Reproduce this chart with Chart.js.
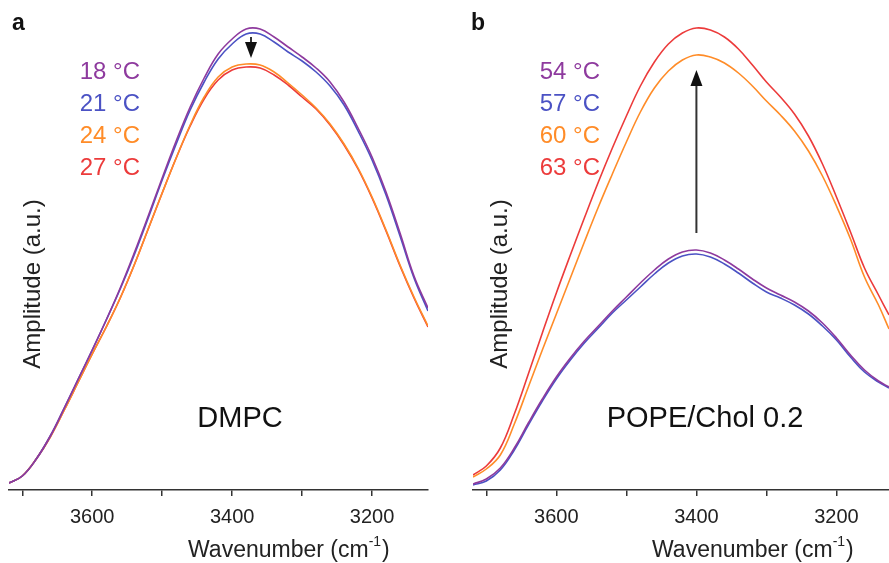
<!DOCTYPE html>
<html>
<head>
<meta charset="utf-8">
<script src="https://cdn.jsdelivr.net/npm/chart.js@4.4.0/dist/chart.umd.min.js"></script>
<style>
  html, body { margin: 0; padding: 0; background: #fff; }
  body { width: 889px; height: 563px; position: relative; overflow: hidden; }
  .panel { position: absolute; top: 0; height: 563px; }
  #panelA { left: 0; width: 444px; }
  #panelB { left: 444px; width: 445px; }
</style>
</head>
<body>
<div class="panel" id="panelA"><canvas id="chartA" width="444" height="563"></canvas></div>
<div class="panel" id="panelB"><canvas id="chartB" width="445" height="563"></canvas></div>
<script>
// wavenumber axis (cm-1), shared ticks
const xTicks = [3700, 3600, 3500, 3400, 3300, 3200];
const xTickLabels = ["", "3600", "", "3400", "", "3200"];

// panel a: DMPC
const wavenumbersA = [3719, 3700, 3680, 3660, 3640, 3620, 3600, 3580, 3560, 3540, 3520, 3500, 3480, 3460, 3440, 3420,
  3400, 3380, 3360, 3340, 3320, 3300, 3280, 3260, 3240, 3220, 3200, 3180, 3160, 3140, 3120];
const dmpc18 = [0.07, 0.14, 0.31, 0.54, 0.82, 1.11, 1.40, 1.70, 2.02, 2.37, 2.74, 3.12, 3.49, 3.83, 4.12, 4.36,
  4.51, 4.61, 4.61, 4.53, 4.43, 4.33, 4.22, 4.08, 3.88, 3.62, 3.33, 2.98, 2.57, 2.14, 1.82];
const dmpc21 = [0.07, 0.14, 0.31, 0.54, 0.82, 1.11, 1.40, 1.70, 2.01, 2.35, 2.72, 3.10, 3.46, 3.80, 4.08, 4.31,
  4.46, 4.56, 4.56, 4.48, 4.38, 4.29, 4.18, 4.04, 3.85, 3.59, 3.30, 2.95, 2.54, 2.12, 1.79];
const dmpc24 = [0.07, 0.14, 0.31, 0.53, 0.80, 1.08, 1.36, 1.63, 1.92, 2.25, 2.61, 2.97, 3.32, 3.65, 3.93, 4.13,
  4.23, 4.26, 4.25, 4.18, 4.07, 3.95, 3.82, 3.66, 3.46, 3.22, 2.93, 2.60, 2.25, 1.93, 1.64];
const dmpc27 = [0.07, 0.14, 0.31, 0.53, 0.80, 1.08, 1.36, 1.63, 1.92, 2.25, 2.61, 2.97, 3.32, 3.64, 3.91, 4.10,
  4.20, 4.23, 4.22, 4.15, 4.05, 3.93, 3.81, 3.65, 3.45, 3.21, 2.92, 2.59, 2.24, 1.92, 1.63];
const tempsA = ["18 °C", "21 °C", "24 °C", "27 °C"];

// panel b: POPE/Chol 0.2
const wavenumbersB = [3719, 3700, 3680, 3660, 3640, 3620, 3600, 3580, 3560, 3540, 3520, 3500, 3480, 3460, 3440, 3420,
  3400, 3380, 3360, 3340, 3320, 3300, 3280, 3260, 3240, 3220, 3200, 3180, 3160, 3140, 3125];
const pope54 = [0.06, 0.11, 0.22, 0.42, 0.67, 0.91, 1.13, 1.32, 1.49, 1.64, 1.79, 1.93, 2.07, 2.20, 2.31, 2.38,
  2.40, 2.37, 2.30, 2.21, 2.11, 2.02, 1.95, 1.88, 1.79, 1.67, 1.52, 1.35, 1.20, 1.09, 1.03];
const pope57 = [0.05, 0.09, 0.20, 0.40, 0.65, 0.89, 1.11, 1.30, 1.47, 1.62, 1.77, 1.90, 2.03, 2.16, 2.27, 2.34,
  2.36, 2.33, 2.26, 2.17, 2.07, 1.98, 1.92, 1.85, 1.76, 1.64, 1.50, 1.33, 1.18, 1.08, 1.02];
const pope60 = [0.13, 0.21, 0.35, 0.66, 1.03, 1.40, 1.76, 2.12, 2.48, 2.83, 3.16, 3.48, 3.78, 4.02, 4.19, 4.30,
  4.35, 4.33, 4.27, 4.17, 4.04, 3.89, 3.75, 3.59, 3.39, 3.14, 2.84, 2.51, 2.13, 1.85, 1.61];
const pope63 = [0.15, 0.24, 0.42, 0.76, 1.16, 1.57, 1.97, 2.35, 2.72, 3.08, 3.42, 3.74, 4.04, 4.28, 4.46, 4.57,
  4.62, 4.60, 4.53, 4.41, 4.25, 4.08, 3.93, 3.76, 3.54, 3.26, 2.93, 2.58, 2.22, 1.95, 1.75];
const tempsB = ["54 °C", "57 °C", "60 °C", "63 °C"];

const colors = ["#8e3a9e", "#4b52c4", "#ff8c28", "#ec3b3b"];
const FONT = '"Liberation Sans", Arial, sans-serif';

// labels, arrow and axis titles drawn on top of each panel
const panelText = {
  id: "panelText",
  afterDraw(chart, args, opts) {
    const ctx = chart.ctx;
    const xs = chart.scales.x, ys = chart.scales.y;
    ctx.save();
    ctx.textBaseline = "alphabetic";

    ctx.fillStyle = "#111";
    ctx.font = "bold 23px " + FONT;
    ctx.textAlign = "left";
    ctx.fillText(opts.letter, opts.letterX, 30);

    ctx.font = "24px " + FONT;
    ctx.textAlign = "right";
    opts.temps.forEach((t, i) => {
      ctx.fillStyle = colors[i];
      ctx.fillText(t, opts.legendX, 79 + i * 32);
    });

    ctx.fillStyle = "#111";
    ctx.font = "29px " + FONT;
    ctx.textAlign = "center";
    ctx.fillText(opts.sample, opts.sampleX, 427);

    // y title
    ctx.save();
    ctx.translate(opts.ampX, 284);
    ctx.rotate(-Math.PI / 2);
    ctx.font = "24px " + FONT;
    ctx.fillStyle = "#222";
    ctx.fillText("Amplitude (a.u.)", 0, 0);
    ctx.restore();

    // x title with superscript
    ctx.textAlign = "left";
    ctx.fillStyle = "#222";
    ctx.font = "23px " + FONT;
    let tx = opts.titleX;
    ctx.fillText("Wavenumber (cm", tx, 557);
    tx += ctx.measureText("Wavenumber (cm").width;
    ctx.font = "14px " + FONT;
    ctx.fillText("-1", tx, 546);
    tx += ctx.measureText("-1").width + 1;
    ctx.font = "23px " + FONT;
    ctx.fillText(")", tx, 557);

    // arrow
    const a = opts.arrow;
    const ax = xs.getPixelForValue(a.x);
    const y0 = ys.getPixelForValue(a.from);
    const y1 = ys.getPixelForValue(a.to);
    const dir = y1 > y0 ? 1 : -1;
    const headLen = 16, headW = 6;
    ctx.strokeStyle = "#333";
    ctx.lineWidth = 2;
    ctx.beginPath();
    ctx.moveTo(ax, y0);
    ctx.lineTo(ax, y1 - dir * headLen);
    ctx.stroke();
    ctx.fillStyle = "#111";
    ctx.beginPath();
    ctx.moveTo(ax, y1);
    ctx.lineTo(ax - headW, y1 - dir * headLen);
    ctx.lineTo(ax + headW, y1 - dir * headLen);
    ctx.closePath();
    ctx.fill();
    ctx.restore();
  }
};

function makeDatasets(wn, series) {
  return series.map((vals, i) => ({
    data: wn.map((w, j) => ({ x: w, y: vals[j] })),
    borderColor: colors[i],
    borderWidth: 1.6,
    pointRadius: 0,
    tension: 0.4,
    fill: false
  }));
}

function makeChart(id, wn, series, pad, textOpts) {
  return new Chart(document.getElementById(id), {
    type: "line",
    data: { datasets: makeDatasets(wn, series) },
    plugins: [panelText],
    options: {
      responsive: false,
      animation: false,
      layout: { padding: pad },
      plugins: {
        legend: { display: false },
        tooltip: { enabled: false },
        panelText: textOpts
      },
      scales: {
        x: {
          type: "linear",
          reverse: true,
          min: wn[wn.length - 1],
          max: wn[0],
          afterBuildTicks: s => { s.ticks = xTicks.map(v => ({ value: v })); },
          afterFit: s => { s.height = 73; },
          border: { display: true, color: "#333", width: 1.5 },
          grid: { drawOnChartArea: false, drawTicks: true, tickLength: 6, color: "#333", lineWidth: 1.5 },
          ticks: {
            autoSkip: false,
            maxRotation: 0,
            padding: 9,
            color: "#222",
            font: { family: FONT, size: 20 },
            callback: v => xTickLabels[xTicks.indexOf(v)] ?? ""
          }
        },
        y: { display: false, min: 0, max: 4.9 }
      }
    }
  });
}

makeChart("chartA", wavenumbersA, [dmpc18, dmpc21, dmpc24, dmpc27],
  { left: 9, right: 16, top: 0, bottom: 0 },
  { letter: "a", letterX: 12, temps: tempsA, legendX: 140, sample: "DMPC", sampleX: 240,
    ampX: 40, titleX: 188, arrow: { x: 3373, from: 4.53, to: 4.32 } });

makeChart("chartB", wavenumbersB, [pope54, pope57, pope60, pope63],
  { left: 29, right: 0, top: 0, bottom: 0 },
  { letter: "b", letterX: 27, temps: tempsB, legendX: 156, sample: "POPE/Chol 0.2", sampleX: 261,
    ampX: 63, titleX: 208, arrow: { x: 3400, from: 2.57, to: 4.20 } });
</script>
</body>
</html>
